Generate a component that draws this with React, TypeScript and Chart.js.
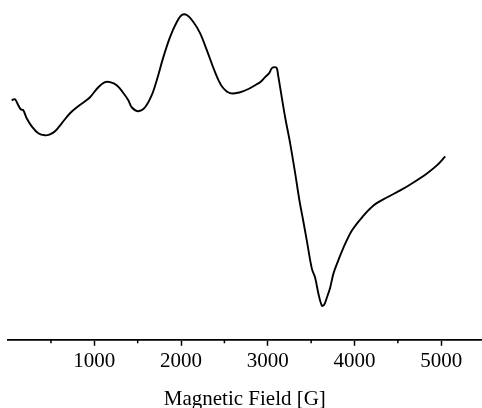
import React, { useEffect, useRef } from "react";
import { Chart, registerables } from "chart.js";

Chart.register(...registerables);

// Magnetic field (G) and EPR signal intensity (arbitrary units)
const fieldG: number[] = [
  47, 85, 123, 151, 181, 220, 278, 354, 431, 489, 547, 624, 720, 815, 893, 950,
  1046, 1123, 1181, 1258, 1328, 1392, 1431, 1508, 1585, 1662, 1720, 1796, 1873,
  1951, 2008, 2066, 2142, 2219, 2297, 2392, 2470, 2566, 2681, 2796, 2874, 2912,
  2969, 3016, 3047, 3085, 3104, 3119, 3142, 3200, 3258, 3316, 3365, 3408, 3450,
  3508, 3546, 3584, 3624, 3650, 3681, 3719, 3757, 3812, 3873, 3970, 4085, 4219,
  4373, 4527, 4680, 4835, 4950, 5046,
];
const intensity: number[] = [
  239, 240, 234, 230, 229, 221, 213, 206, 204, 205, 208, 216, 226, 233, 238, 242,
  252, 257, 257, 254, 247, 239, 232, 228, 232, 244, 259, 282, 302,
  317, 324, 324, 317, 306, 289, 267, 253, 246, 247, 251, 255, 257,
  262, 266, 271, 272, 271, 264, 252, 222, 196, 166, 139, 119, 99,
  71, 62, 46, 34, 35, 42, 52, 66, 79, 92, 109, 122, 134,
  142, 149, 157, 166, 174, 183,
];
const majorTicks: number[] = [1000, 2000, 3000, 4000, 5000];
const minorTicks: number[] = [500, 1500, 2500, 3500, 4500];
const xTitle = "Magnetic Field [G]";

const FONT = '"Liberation Serif", "Times New Roman", serif';

const minorTickPlugin = {
  id: "minorTickPlugin",
  afterDraw(chart: any) {
    const s = chart.scales.x;
    const ctx = chart.ctx;
    ctx.save();
    ctx.strokeStyle = "#000";
    ctx.lineWidth = 1.5;
    for (const v of minorTicks) {
      const px = s.getPixelForValue(v);
      ctx.beginPath();
      ctx.moveTo(px, s.top);
      ctx.lineTo(px, s.top + 3.5);
      ctx.stroke();
    }
    ctx.restore();
  },
};

export default function App() {
  const ref = useRef<HTMLCanvasElement | null>(null);

  useEffect(() => {
    if (!ref.current) return;
    const chart = new Chart(ref.current, {
      type: "line",
      data: {
        datasets: [
          {
            data: fieldG.map((x, i) => ({ x, y: intensity[i] })),
            borderColor: "#000",
            borderWidth: 1.9,
            pointRadius: 0,
            tension: 0.35,
            fill: false,
          },
        ],
      },
      options: {
        animation: false,
        responsive: false,
        layout: { padding: { left: 7.6, right: 0, top: 0, bottom: 0 } },
        plugins: { legend: { display: false }, tooltip: { enabled: false } },
        scales: {
          x: {
            type: "linear",
            min: 0,
            max: 5470,
            afterBuildTicks: (axis: any) => {
              axis.ticks = majorTicks.map((v) => ({ value: v }));
            },
            grid: {
              drawOnChartArea: false,
              drawTicks: true,
              tickLength: 6,
              tickColor: "#000",
              tickWidth: 1.5,
            },
            border: { display: true, color: "#000", width: 1.8 },
            ticks: {
              padding: 3,
              color: "#000",
              maxRotation: 0,
              autoSkip: false,
              font: { family: FONT, size: 21 },
              callback: (v: any) => String(v),
            },
            title: {
              display: true,
              text: xTitle,
              color: "#000",
              font: { family: FONT, size: 21, lineHeight: 1 },
              padding: { top: 12, bottom: -2 },
            },
          },
          y: {
            display: false,
            min: 0,
            max: 339,
          },
        },
      },
      plugins: [minorTickPlugin],
    });
    return () => chart.destroy();
  }, []);

  return (
    <canvas
      ref={ref}
      width={482}
      height={408}
      style={{ position: "absolute", left: 0, top: 0 }}
    />
  );
}
